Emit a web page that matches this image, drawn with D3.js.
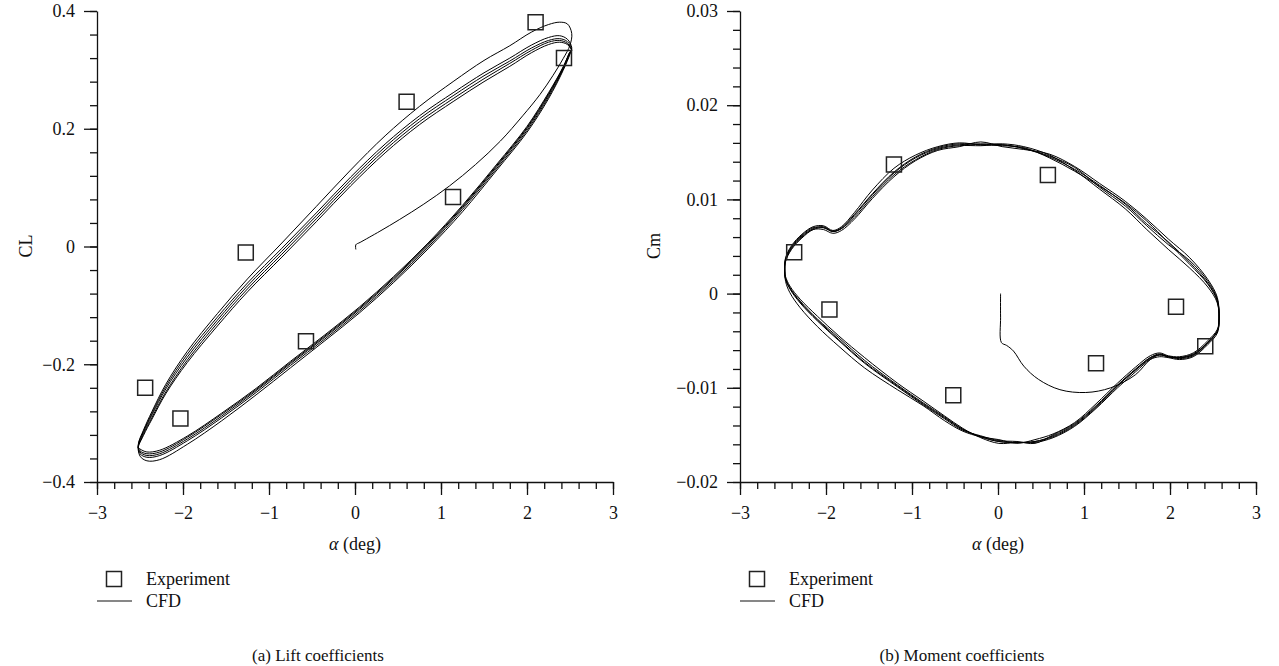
<!DOCTYPE html>
<html>
<head>
<meta charset="utf-8">
<script src="https://cdn.jsdelivr.net/npm/d3@7"></script>
<style>
  body { margin: 0; background: #fff; }
  svg text { font-family: "Liberation Serif", "Times New Roman", serif; fill: #111; }
</style>
</head>
<body>
<svg id="chart" width="1279" height="666"></svg>
<script>
// ---------- Lift coefficient (panel a) ----------
// Angle samples along one pitching cycle: upper branch (alpha decreasing), then lower branch (alpha increasing)
const liftAlpha = [
  2.52, 2.47, 2.38, 2.25, 2.05, 1.80, 1.50, 1.15, 0.75, 0.35, -0.05, -0.45, -0.85, -1.25, -1.60, -1.95, -2.20, -2.36, -2.46, -2.52,
  -2.50, -2.42, -2.27, -1.95, -1.55, -1.15, -0.75, -0.35, 0.05, 0.45, 0.85, 1.25, 1.65, 2.00, 2.25, 2.42, 2.50
];
const liftCycle1 = [
  0.362, 0.378, 0.381, 0.377, 0.364, 0.341, 0.316, 0.281, 0.238, 0.188, 0.130, 0.068, 0.006, -0.055, -0.114, -0.178, -0.234, -0.280, -0.312, -0.336,
  -0.356, -0.364, -0.362, -0.336, -0.296, -0.252, -0.206, -0.160, -0.113, -0.061, -0.004, 0.059, 0.130, 0.194, 0.251, 0.299, 0.327
];
const liftCycle2 = [
  0.338, 0.352, 0.358, 0.355, 0.342, 0.320, 0.295, 0.262, 0.222, 0.174, 0.118, 0.057, -0.003, -0.062, -0.120, -0.183, -0.238, -0.283, -0.314, -0.338,
  -0.352, -0.358, -0.355, -0.330, -0.291, -0.248, -0.202, -0.157, -0.110, -0.058, -0.001, 0.063, 0.133, 0.197, 0.254, 0.301, 0.328
];
const liftCycle3 = [
  0.335, 0.348, 0.353, 0.350, 0.337, 0.315, 0.290, 0.257, 0.217, 0.169, 0.113, 0.052, -0.008, -0.067, -0.125, -0.188, -0.242, -0.286, -0.316, -0.339,
  -0.349, -0.355, -0.352, -0.327, -0.288, -0.245, -0.199, -0.154, -0.107, -0.055, 0.002, 0.066, 0.136, 0.200, 0.257, 0.303, 0.330
];
const liftCycle4 = [
  0.333, 0.345, 0.350, 0.347, 0.333, 0.311, 0.285, 0.252, 0.212, 0.164, 0.108, 0.047, -0.013, -0.072, -0.130, -0.193, -0.247, -0.290, -0.319, -0.341,
  -0.347, -0.352, -0.349, -0.324, -0.285, -0.243, -0.197, -0.152, -0.105, -0.053, 0.004, 0.068, 0.138, 0.202, 0.259, 0.304, 0.330
];
const liftCycle5 = [
  0.332, 0.343, 0.347, 0.343, 0.329, 0.306, 0.280, 0.247, 0.207, 0.159, 0.103, 0.042, -0.018, -0.077, -0.135, -0.197, -0.250, -0.293, -0.321, -0.342,
  -0.344, -0.349, -0.346, -0.322, -0.283, -0.241, -0.195, -0.150, -0.103, -0.051, 0.006, 0.070, 0.140, 0.204, 0.261, 0.305, 0.331
];
// Start-up transient from rest
const liftStartAlpha = [0.01, 0.01, 0.06, 0.29, 0.52, 0.80, 1.10, 1.40, 1.69, 1.95, 2.15, 2.30, 2.42, 2.50];
const liftStartCL    = [-0.005, 0.003, 0.007, 0.026, 0.046, 0.072, 0.103, 0.139, 0.179, 0.222, 0.258, 0.290, 0.319, 0.342];
// Wind-tunnel measurements
const liftExpAlpha = [-2.44, -2.03, -1.27, -0.57, 0.60, 1.14, 2.10, 2.43];
const liftExpCL    = [-0.240, -0.292, -0.010, -0.161, 0.246, 0.084, 0.381, 0.320];

// ---------- Moment coefficient (panel b) ----------
const momentAlpha = [
  2.57, 2.55, 2.44, 2.23, 1.98, 1.73, 1.48, 1.18, 0.89, 0.60, 0.30, 0.05, -0.20, -0.45, -0.70, -0.96, -1.21, -1.46, -1.67, -1.82, -1.92, -2.03, -2.15, -2.28, -2.40, -2.47, -2.48,
  -2.47, -2.42, -2.30, -2.10, -1.85, -1.55, -1.17, -0.87, -0.62, -0.41, -0.20, 0.01, 0.22, 0.43, 0.64, 0.89, 1.14, 1.39, 1.60, 1.77, 1.88, 1.98, 2.11, 2.27, 2.44, 2.55
];
const momentCycle1 = [
  -0.0031, -0.0010, 0.0007, 0.0027, 0.0047, 0.0068, 0.0090, 0.0111, 0.0131, 0.0147, 0.0156, 0.0159, 0.0158, 0.0160, 0.0156, 0.0147, 0.0133, 0.0110, 0.0086, 0.0071, 0.0067, 0.0072, 0.0071, 0.0063, 0.0051, 0.0038, 0.0027,
  0.0013, 0.0001, -0.0015, -0.0035, -0.0056, -0.0079, -0.0102, -0.0119, -0.0135, -0.0146, -0.0152, -0.0155, -0.0159, -0.0155, -0.0149, -0.0137, -0.0117, -0.0095, -0.0078, -0.0066, -0.0063, -0.0066, -0.0067, -0.0063, -0.0050, -0.0038
];
const momentCycle2 = [
  -0.0026, -0.0004, 0.0015, 0.0038, 0.0058, 0.0079, 0.0098, 0.0117, 0.0135, 0.0148, 0.0153, 0.0156, 0.0161, 0.0156, 0.0152, 0.0141, 0.0124, 0.0101, 0.0079, 0.0067, 0.0064, 0.0068, 0.0068, 0.0060, 0.0048, 0.0035, 0.0024,
  0.0018, 0.0008, -0.0006, -0.0024, -0.0045, -0.0068, -0.0095, -0.0114, -0.0130, -0.0143, -0.0153, -0.0159, -0.0158, -0.0158, -0.0153, -0.0141, -0.0122, -0.0100, -0.0083, -0.0070, -0.0067, -0.0068, -0.0070, -0.0067, -0.0054, -0.0042
];
const momentCycle3 = [
  -0.0029, -0.0008, 0.0010, 0.0031, 0.0054, 0.0077, 0.0096, 0.0114, 0.0130, 0.0144, 0.0155, 0.0157, 0.0158, 0.0159, 0.0155, 0.0145, 0.0129, 0.0106, 0.0084, 0.0070, 0.0066, 0.0070, 0.0068, 0.0059, 0.0047, 0.0034, 0.0024,
  0.0016, 0.0005, -0.0010, -0.0029, -0.0050, -0.0074, -0.0099, -0.0118, -0.0133, -0.0145, -0.0151, -0.0156, -0.0157, -0.0159, -0.0150, -0.0138, -0.0119, -0.0097, -0.0080, -0.0068, -0.0064, -0.0067, -0.0068, -0.0064, -0.0052, -0.0040
];
const momentCycle4 = [
  -0.0027, -0.0006, 0.0013, 0.0035, 0.0052, 0.0072, 0.0093, 0.0113, 0.0134, 0.0146, 0.0154, 0.0158, 0.0157, 0.0157, 0.0153, 0.0142, 0.0126, 0.0103, 0.0081, 0.0069, 0.0066, 0.0070, 0.0070, 0.0062, 0.0050, 0.0037, 0.0026,
  0.0015, 0.0006, -0.0008, -0.0027, -0.0047, -0.0071, -0.0097, -0.0116, -0.0131, -0.0144, -0.0152, -0.0157, -0.0158, -0.0157, -0.0152, -0.0140, -0.0121, -0.0098, -0.0081, -0.0069, -0.0065, -0.0067, -0.0069, -0.0066, -0.0052, -0.0040
];
const momentCycle5 = [
  -0.0028, -0.0007, 0.0011, 0.0033, 0.0055, 0.0074, 0.0095, 0.0115, 0.0132, 0.0145, 0.0154, 0.0158, 0.0159, 0.0158, 0.0154, 0.0144, 0.0128, 0.0105, 0.0083, 0.0069, 0.0066, 0.0071, 0.0069, 0.0061, 0.0049, 0.0036, 0.0025,
  0.0016, 0.0006, -0.0009, -0.0028, -0.0049, -0.0073, -0.0098, -0.0117, -0.0132, -0.0144, -0.0152, -0.0157, -0.0158, -0.0157, -0.0151, -0.0139, -0.0120, -0.0098, -0.0081, -0.0068, -0.0065, -0.0067, -0.0068, -0.0065, -0.0052, -0.0040
];
const momentStartAlpha = [0.03, 0.03, 0.04, 0.10, 0.18, 0.30, 0.47, 0.72, 1.02, 1.31, 1.60, 1.77, 1.88, 1.98, 2.11, 2.27, 2.44, 2.55];
const momentStartCm    = [0.0000, -0.0025, -0.0052, -0.0055, -0.0061, -0.0077, -0.0091, -0.0102, -0.0105, -0.0100, -0.0086, -0.0070, -0.0065, -0.0067, -0.0068, -0.0065, -0.0052, -0.0040];
const momentExpAlpha = [-2.37, -1.96, -1.21, -0.52, 0.58, 1.14, 2.07, 2.41];
const momentExpCm    = [0.0044, -0.0017, 0.0137, -0.0108, 0.0126, -0.0074, -0.0014, -0.0056];

// Axis tick values
const alphaTicks = [-3, -2, -1, 0, 1, 2, 3];
const liftTicks = [-0.4, -0.2, 0, 0.2, 0.4];
const momentTicks = [-0.02, -0.01, 0, 0.01, 0.02, 0.03];

// ---------- drawing ----------
const svg = d3.select("#chart");
const zip = (xs, ys) => xs.map((x, i) => [x, ys[i]]);
const range = (a, b, step) => d3.range(Math.round((b - a) / step) + 1).map(i => +(a + i * step).toFixed(6));

function panel(cfg) {
  const g = svg.append("g");
  const x = d3.scaleLinear().domain([-3, 3]).range([cfg.left, cfg.left + 516]);
  const y = d3.scaleLinear().domain(cfg.yDomain).range([482, 11]);

  // minor ticks
  g.append("g").attr("transform", `translate(0,482)`)
    .call(d3.axisBottom(x).tickValues(range(-3, 3, 0.2)).tickSize(7).tickFormat(""))
    .call(s => s.select(".domain").remove());
  g.append("g").attr("transform", `translate(${cfg.left},0)`)
    .call(d3.axisLeft(y).tickValues(range(cfg.yDomain[0], cfg.yDomain[1], cfg.yMinor)).tickSize(7).tickFormat(""))
    .call(s => s.select(".domain").remove());

  // major ticks with labels
  g.append("g").attr("transform", `translate(0,482)`)
    .call(d3.axisBottom(x).tickValues(alphaTicks).tickSize(13).tickSizeOuter(0).tickPadding(11)
      .tickFormat(d3.format("d")));
  g.append("g").attr("transform", `translate(${cfg.left},0)`)
    .call(d3.axisLeft(y).tickValues(cfg.yTicks).tickSize(13).tickSizeOuter(0).tickPadding(9)
      .tickFormat(d => d === 0 ? "0" : d3.format(cfg.yFmt)(d)));
  g.selectAll(".domain, .tick line").attr("stroke", "#111").attr("stroke-width", 1.3);
  g.selectAll(".tick text").attr("font-family", "Liberation Serif, serif").attr("font-size", 18).attr("fill", "#111");

  // axis titles
  const xt = g.append("text").attr("x", x(0)).attr("y", 550).attr("text-anchor", "middle").attr("font-size", 18);
  xt.append("tspan").attr("font-style", "italic").text("α");
  xt.append("tspan").text(" (deg)");
  g.append("text").attr("transform", `translate(${cfg.yTitleX},246) rotate(-90)`)
    .attr("text-anchor", "middle").attr("font-size", 18).text(cfg.yTitle);

  // CFD history: transient followed by the periodic cycles
  const pts = zip(cfg.startA, cfg.startV);
  cfg.cycles.forEach(c => pts.push(...zip(cfg.cycleA, c)));
  const line = d3.line().x(d => x(d[0])).y(d => y(d[1])).curve(d3.curveCatmullRom.alpha(0.5));
  g.append("path").attr("d", line(pts)).attr("fill", "none").attr("stroke", "#000").attr("stroke-width", 1);

  // experiment markers
  const sq = d3.symbol().type(d3.symbolSquare).size(225);
  g.selectAll("path.exp").data(zip(cfg.expA, cfg.expV)).join("path").attr("class", "exp")
    .attr("d", sq).attr("transform", d => `translate(${x(d[0])},${y(d[1])})`)
    .attr("fill", "none").attr("stroke", "#222").attr("stroke-width", 1.5);

  // legend
  const lx = cfg.left;
  g.append("path").attr("d", sq).attr("transform", `translate(${lx + 17},579)`)
    .attr("fill", "none").attr("stroke", "#222").attr("stroke-width", 1.5);
  g.append("text").attr("x", lx + 49).attr("y", 585).attr("font-size", 18).text("Experiment");
  g.append("line").attr("x1", lx).attr("x2", lx + 35).attr("y1", 601).attr("y2", 601)
    .attr("stroke", "#111").attr("stroke-width", 1.2);
  g.append("text").attr("x", lx + 49).attr("y", 607).attr("font-size", 18).text("CFD");

  // caption
  g.append("text").attr("x", cfg.captionX).attr("y", 661).attr("text-anchor", "middle")
    .attr("font-size", 17).text(cfg.caption);
}

panel({
  left: 97, yDomain: [-0.4, 0.4], yTicks: liftTicks, yMinor: 0.04, yFmt: ".1f",
  yTitle: "CL", yTitleX: 32,
  cycleA: liftAlpha, cycles: [liftCycle1, liftCycle2, liftCycle3, liftCycle4, liftCycle5],
  startA: liftStartAlpha, startV: liftStartCL,
  expA: liftExpAlpha, expV: liftExpCL,
  caption: "(a) Lift coefficients", captionX: 318
});
panel({
  left: 740, yDomain: [-0.02, 0.03], yTicks: momentTicks, yMinor: 0.002, yFmt: ".2f",
  yTitle: "Cm", yTitleX: 660,
  cycleA: momentAlpha, cycles: [momentCycle1, momentCycle2, momentCycle3, momentCycle4, momentCycle5],
  startA: momentStartAlpha, startV: momentStartCm,
  expA: momentExpAlpha, expV: momentExpCm,
  caption: "(b) Moment coefficients", captionX: 962
});
</script>
</body>
</html>
